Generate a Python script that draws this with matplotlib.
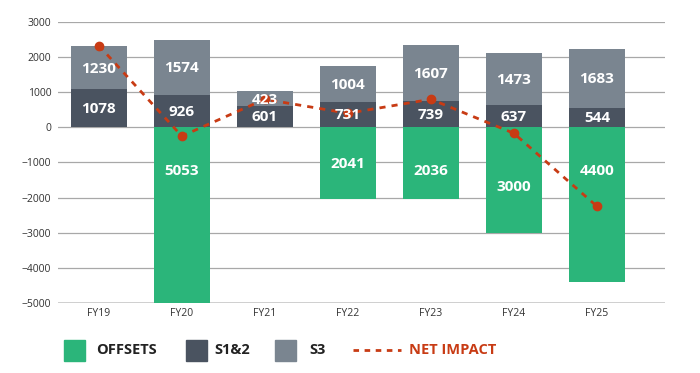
import matplotlib.pyplot as plt
import numpy as np
from matplotlib.patches import Rectangle
from matplotlib.lines import Line2D

plt.rcParams['font.family'] = ['Open Sans', 'DejaVu Sans']

years = ["FY19", "FY20", "FY21", "FY22", "FY23", "FY24", "FY25"]
s12 = [1078, 926, 601, 731, 739, 637, 544]
s3 = [1230, 1574, 423, 1004, 1607, 1473, 1683]
offsets = [0, 5053, 0, 2041, 2036, 3000, 4400]
net_impact = [2330, -250, 800, 400, 800, -170, -2250]

GREEN = "#2bb57a"
DARK = "#4a5360"
GREY = "#7a8590"
RED = "#c83b14"

fig = plt.figure(figsize=(7, 3.73), dpi=100)
ax = fig.add_axes([0.083, 0.188, 0.867, 0.753])

x = np.arange(len(years))
w = 0.67
s12 = np.array(s12)
s3 = np.array(s3)
offsets = np.array(offsets)

ax.bar(x, s12, w, color=DARK, zorder=2)
ax.bar(x, s3, w, bottom=s12, color=GREY, zorder=2)
ax.bar(x, -offsets, w, color=GREEN, zorder=2)
ax.plot(x, net_impact, color=RED, lw=2, ls=(0, (2.2, 2.2)), marker="o", ms=6, zorder=3)

# white value labels, sit on top of the net impact line
lbl = dict(color="white", fontsize=11, fontweight="bold", ha="center", va="center", zorder=4)
for i in x:
    ax.text(i, s12[i] / 2 - 20, str(s12[i]), **lbl)
    ax.text(i, s12[i] + s3[i] / 2 - 20, str(s3[i]), **lbl)
    if offsets[i]:
        if offsets[i] == 3000:
            pos = -1700
        elif offsets[i] == 2041:
            pos = -1050
        else:
            pos = -1230
        ax.text(i, pos, str(offsets[i]), **lbl)

ax.set_ylim(-5000, 3000)
ax.set_xlim(-0.49, 6.82)
ax.set_yticks(np.arange(-5000, 3001, 1000))
ax.set_xticks(x)
ax.set_xticklabels(years)
ax.tick_params(length=0, labelsize=7.5, colors="#333333", pad=4)
ax.tick_params(axis="y", pad=5)
ax.yaxis.grid(True, color="#a8a8a8", lw=0.9, zorder=0)
ax.set_axisbelow(True)
for s in ax.spines.values():
    s.set_visible(False)
ax.axhline(-5000, color="#cccccc", lw=2, zorder=1)

# legend drawn by hand, positions in figure pixels
W, H = 700, 373
ly = 1 - 350 / H
sq = 21
for x0, col, name, tx in [(64, GREEN, "OFFSETS", 96), (186, DARK, "S1&2", 214), (275, GREY, "S3", 309)]:
    fig.patches.append(Rectangle((x0 / W, ly - sq / 2 / H), sq / W, sq / H,
                                 transform=fig.transFigure, color=col))
    fig.text(tx / W, ly, name, fontsize=10.5, fontweight="bold", color="#222222", va="center")
fig.add_artist(Line2D([353 / W, 401 / W], [ly, ly], color=RED, lw=2, ls=(0, (2, 2)),
                      transform=fig.transFigure))
fig.text(409 / W, ly, "NET IMPACT", fontsize=10.5, fontweight="bold", color=RED, va="center")

fig.savefig("out.png", dpi=100)
